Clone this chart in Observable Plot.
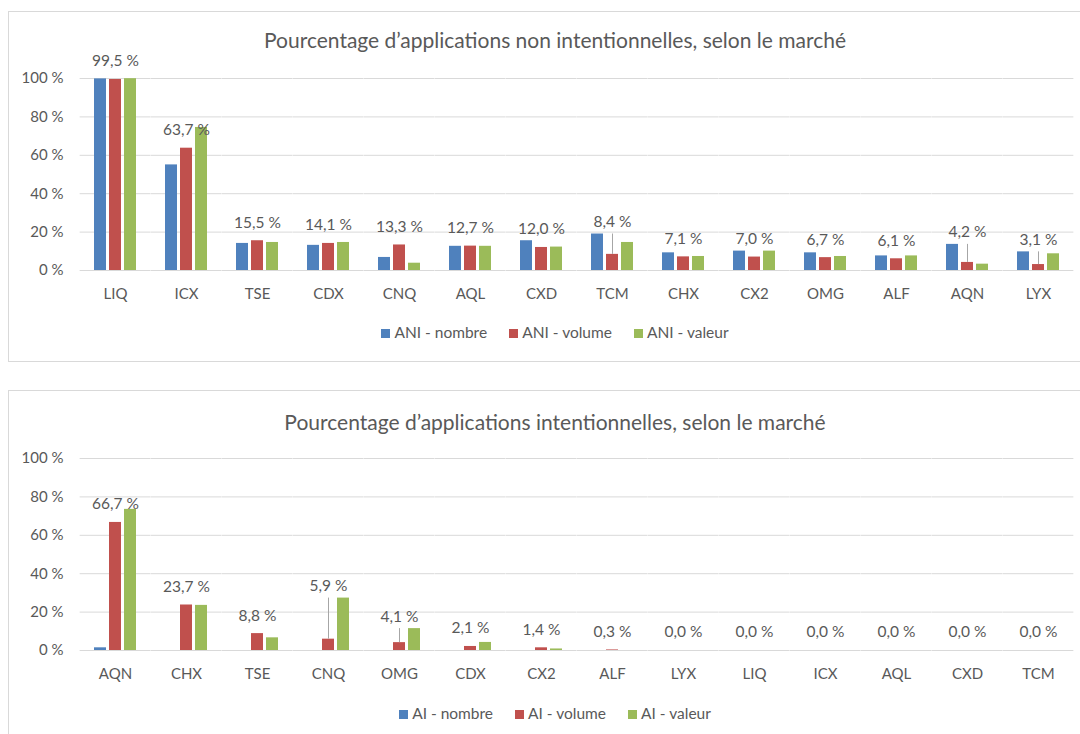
<!DOCTYPE html>
<html>
<head>
<meta charset="utf-8">
<script src="https://cdn.jsdelivr.net/npm/d3@7"></script>
<script src="https://cdn.jsdelivr.net/npm/@observablehq/plot@0.6"></script>
<style>
  html, body { margin: 0; padding: 0; background: #fff; }
  body { position: relative; width: 1080px; height: 734px; overflow: hidden; font-family: Lato, "Open Sans", sans-serif; color: #595959; }
  .box { position: absolute; left: 8px; width: 1094px; border: 1px solid #d9d9d9; box-sizing: border-box; }
  .title { position: absolute; left: 8px; width: 1094px; text-align: center; font-size: 21px; line-height: 26px; color: #595959; }
  .chart { position: absolute; left: 0; }
  .legend { position: absolute; left: 8px; width: 1094px; display: flex; justify-content: center; gap: 22px; font-size: 15.5px; line-height: 20px; color: #595959; }
  .legend span.sw { display: inline-block; width: 9px; height: 9px; margin-right: 4px; vertical-align: 0px; }
</style>
</head>
<body>
<div class="box" style="top:11px;height:351px;"></div>
<div class="box" style="top:390px;height:400px;"></div>
<div class="title" style="top:27px;">Pourcentage d’applications non intentionnelles, selon le marché</div>
<div class="title" style="top:409px;">Pourcentage d’applications intentionnelles, selon le marché</div>
<div id="c1" class="chart" style="top:48px;"></div>
<div id="c2" class="chart" style="top:428px;"></div>
<div id="l1" class="legend" style="top:322px;"></div>
<div id="l2" class="legend" style="top:703px;"></div>
<script>
// ---------- Data ----------
const seriesColors = ["#4F81BD", "#C0504D", "#9BBB59"];
const yTicks = [0, 20, 40, 60, 80, 100];

// Chart 1: applications non intentionnelles (ANI)
const aniSeries = ["ANI - nombre", "ANI - volume", "ANI - valeur"];
const aniCategories = ["LIQ", "ICX", "TSE", "CDX", "CNQ", "AQL", "CXD", "TCM", "CHX", "CX2", "OMG", "ALF", "AQN", "LYX"];
const aniNombre = [99.8, 55.0, 14.1, 13.1, 6.8, 12.6, 15.5, 19.0, 9.2, 10.1, 9.2, 7.6, 13.6, 9.7];
const aniVolume = [99.5, 63.7, 15.5, 14.1, 13.3, 12.7, 12.0, 8.4, 7.1, 7.0, 6.7, 6.1, 4.2, 3.1];
const aniValeur = [99.9, 74.5, 14.6, 14.6, 3.8, 12.6, 12.2, 14.6, 7.3, 10.1, 7.3, 7.6, 3.3, 8.7];
const aniLeaders = ["TCM", "AQN", "LYX"];

// Chart 2: applications intentionnelles (AI)
const aiSeries = ["AI - nombre", "AI - volume", "AI - valeur"];
const aiCategories = ["AQN", "CHX", "TSE", "CNQ", "OMG", "CDX", "CX2", "ALF", "LYX", "LIQ", "ICX", "AQL", "CXD", "TCM"];
const aiNombre = [1.4, 0, 0, 0, 0, 0, 0, 0, 0, 0, 0, 0, 0, 0];
const aiVolume = [66.7, 23.7, 8.8, 5.9, 4.1, 2.1, 1.4, 0.3, 0, 0, 0, 0, 0, 0];
const aiValeur = [73.5, 23.5, 6.6, 27.3, 11.4, 4.2, 0.8, 0, 0, 0, 0, 0, 0, 0];
const aiLeaders = ["CNQ", "OMG"];

// ---------- Drawing ----------
const fmt = v => v.toFixed(1).replace(".", ",") + " %";

function drawChart(cats, names, values, leaders) {
  const rows = [];
  cats.forEach((c, i) => {
    const mx = Math.max(values[0][i], values[1][i], values[2][i]);
    names.forEach((s, j) => rows.push({
      cat: c, series: s, value: values[j][i], max: mx,
      isLabel: j === 1, lead: leaders.includes(c)
    }));
  });
  const grid = "#d9d9d9";
  const halfGap = 13.35;
  return Plot.plot({
    width: 1080, height: 262,
    marginLeft: 79, marginRight: 5, marginTop: 30, marginBottom: 40,
    style: { fontFamily: "Lato, 'Open Sans', sans-serif", fontSize: "15px", color: "#595959", background: "transparent", overflow: "visible" },
    facet: { data: rows, x: "cat" },
    fx: { domain: cats, paddingInner: 0.376, paddingOuter: 0.188, tickSize: 0, tickPadding: 18, label: null, axis: "bottom" },
    x: { domain: names, paddingInner: 0.2, paddingOuter: 0, axis: null },
    y: { domain: [0, 100], ticks: yTicks, tickSize: 0, tickPadding: 30, tickFormat: d => d + " %", label: null },
    color: { domain: names, range: seriesColors },
    marks: [
      Plot.ruleY(yTicks, { stroke: grid, strokeWidth: 1, insetLeft: -halfGap, insetRight: -halfGap }),
      Plot.barY(rows, { filter: d => d.value > 0, x: "series", y: "value", fill: "series" }),
      Plot.ruleX(rows, { filter: d => d.isLabel && d.lead, x: "series", y1: "value", y2: "max", stroke: "#a6a6a6", strokeWidth: 1 }),
      Plot.text(rows, { filter: d => d.isLabel && !d.lead, y: "value", text: d => fmt(d.value), dy: -18, fill: "#595959", fontSize: 15.5 }),
      Plot.text(rows, { filter: d => d.isLabel && d.lead, y: "max", text: d => fmt(d.value), dy: -12, fill: "#595959", fontSize: 15.5 })
    ]
  });
}

function drawLegend(el, names) {
  names.forEach((s, i) => {
    const item = document.createElement("div");
    const sw = document.createElement("span");
    sw.className = "sw";
    sw.style.background = seriesColors[i];
    item.appendChild(sw);
    item.appendChild(document.createTextNode(s));
    el.appendChild(item);
  });
}

document.getElementById("c1").appendChild(drawChart(aniCategories, aniSeries, [aniNombre, aniVolume, aniValeur], aniLeaders));
document.getElementById("c2").appendChild(drawChart(aiCategories, aiSeries, [aiNombre, aiVolume, aiValeur], aiLeaders));
drawLegend(document.getElementById("l1"), aniSeries);
drawLegend(document.getElementById("l2"), aiSeries);
</script>
</body>
</html>
